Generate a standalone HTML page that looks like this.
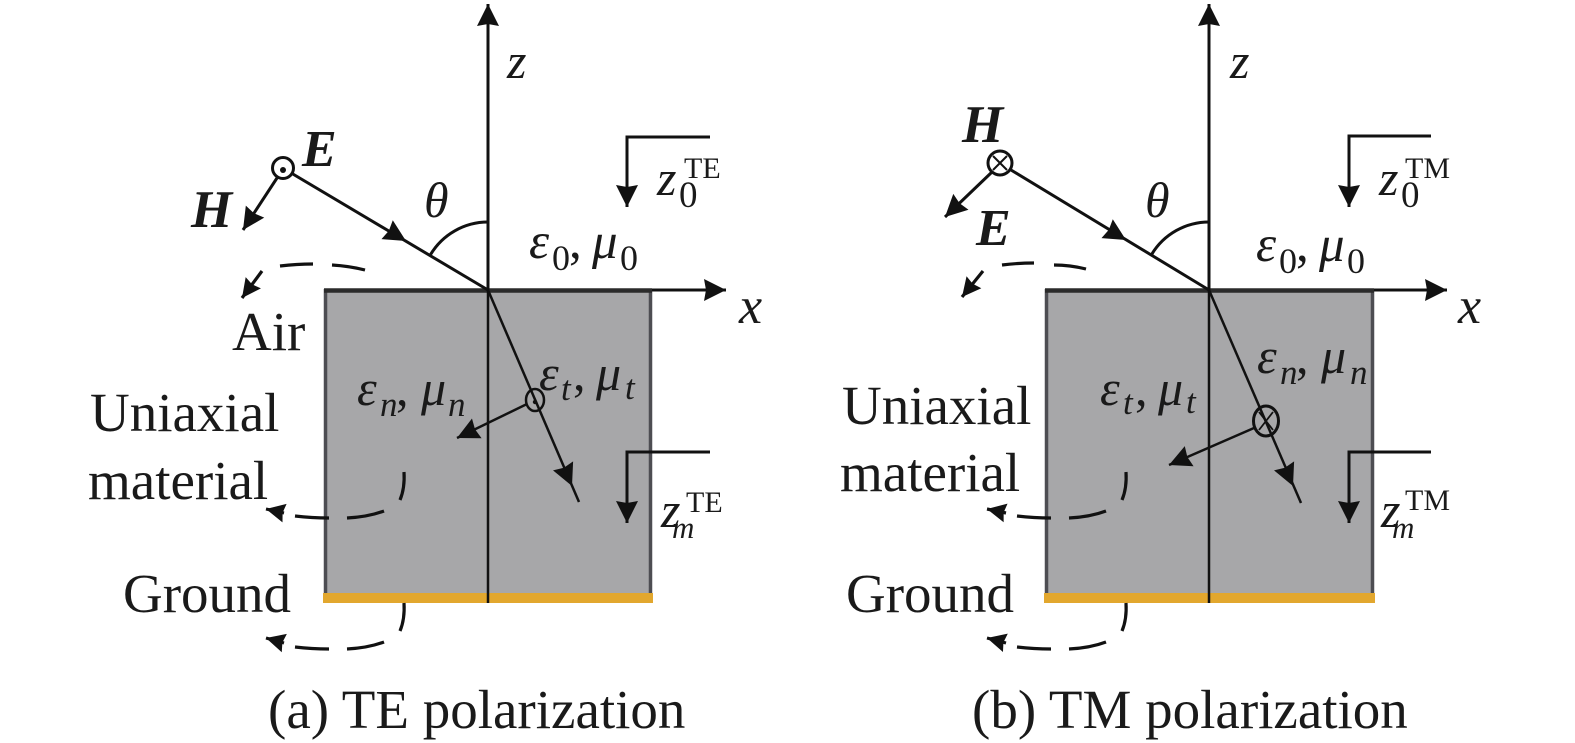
<!DOCTYPE html>
<html><head><meta charset="utf-8"><style>
html,body{margin:0;padding:0;background:#fff;}
svg{display:block;}
text{font-family:"Liberation Serif","DejaVu Serif",serif;fill:#1a1a1a;}
.it{font-style:italic;}
.bi{font-style:italic;font-weight:bold;}
</style></head><body>
<svg width="1575" height="743" viewBox="0 0 1575 743" xmlns="http://www.w3.org/2000/svg">
<defs>
<marker id="A" viewBox="-24 -13 26 26" markerWidth="26" markerHeight="26" refX="0" refY="0" orient="auto" markerUnits="userSpaceOnUse">
<path d="M0,0 L-22,-11 L-20,0 L-22,11 Z" fill="#111"/></marker>
<marker id="S" viewBox="-22 -11 24 22" markerWidth="24" markerHeight="22" refX="0" refY="0" orient="auto" markerUnits="userSpaceOnUse">
<path d="M0,0 L-19,-9.5 L-17,0 L-19,9.5 Z" fill="#111"/></marker>
</defs>
<rect width="1575" height="743" fill="#fff"/>

<!-- ================= PANEL A ================= -->
<rect x="325" y="289" width="327" height="306" fill="#a7a7a9"/>
<line x1="325.5" y1="289" x2="325.5" y2="595" stroke="#4d4d52" stroke-width="3.5"/>
<line x1="650.5" y1="289" x2="650.5" y2="595" stroke="#4d4d52" stroke-width="3.5"/>
<rect x="323" y="593" width="330" height="10" fill="#e2a72e"/>
<line x1="324" y1="290.5" x2="652" y2="290.5" stroke="#2b2b2b" stroke-width="4.5"/>
<line x1="652" y1="290" x2="726" y2="290" stroke="#111" stroke-width="3" marker-end="url(#A)"/>
<!-- z axis -->
<line x1="488" y1="603" x2="488" y2="290" stroke="#111" stroke-width="2.5"/>
<line x1="488" y1="290" x2="488" y2="4" stroke="#111" stroke-width="3" marker-end="url(#A)"/>
<!-- incident ray -->
<line x1="292" y1="173.5" x2="488" y2="290" stroke="#111" stroke-width="3"/>
<path d="M396 235 L406 241" stroke="none" fill="none" marker-end="url(#A)"/>
<circle cx="283" cy="168" r="10.5" fill="#fff" stroke="#111" stroke-width="3"/>
<circle cx="283" cy="170" r="3" fill="#111"/>
<line x1="277" y1="178" x2="243" y2="230" stroke="#111" stroke-width="3" marker-end="url(#A)"/>
<!-- theta arc -->
<path d="M488 222 A67 67 0 0 0 430.4 254.8" fill="none" stroke="#111" stroke-width="3"/>
<!-- transmitted ray -->
<line x1="488" y1="290" x2="579" y2="502" stroke="#111" stroke-width="2.5"/>
<path d="M568 477 L572 486" stroke="none" fill="none" marker-end="url(#A)"/>
<ellipse cx="535" cy="400" rx="9" ry="11" fill="none" stroke="#111" stroke-width="2.5"/>
<circle cx="535" cy="402" r="2.2" fill="#111"/>
<line x1="527" y1="404" x2="457" y2="438" stroke="#111" stroke-width="2.5" marker-end="url(#A)"/>
<!-- brackets -->
<path d="M710 137 H627 V207" fill="none" stroke="#111" stroke-width="3" marker-end="url(#A)"/>
<path d="M710 452 H627 V523" fill="none" stroke="#111" stroke-width="3" marker-end="url(#A)"/>
<!-- dashed arcs -->
<g fill="none" stroke="#111" stroke-width="3.2">
<path d="M365 270 Q349 266 332 265"/>
<path d="M313 264 Q297 264 280 266"/>
<path d="M262 271 L242 298" marker-end="url(#S)"/>
<path d="M404 472 Q405 488 400 500"/>
<path d="M384 511 Q368 517 347 518"/>
<path d="M329 518 Q312 518 295 516"/>
<path d="M284 513 L266 509" marker-end="url(#S)"/>
<path d="M404 603 Q405 619 400 631"/>
<path d="M384 642 Q368 648 347 649"/>
<path d="M329 649 Q312 649 295 647"/>
<path d="M284 643 L266 638" marker-end="url(#S)"/>
</g>
<!-- labels A -->
<text class="it" x="507" y="78" font-size="50">z</text>
<text class="it" x="424" y="217" font-size="50">θ</text>
<text class="bi" x="302" y="166" font-size="52">E</text>
<text class="bi" x="191" y="227" font-size="53">H</text>
<text font-size="51" y="258"><tspan class="it" x="529">ε</tspan><tspan x="552" y="270" font-size="36">0</tspan><tspan x="569" y="258">,</tspan><tspan class="it" x="592" y="258">μ</tspan><tspan x="620" y="270" font-size="36">0</tspan></text>
<text font-size="50"><tspan class="it" x="657" y="195">z</tspan><tspan x="679" y="207" font-size="37">0</tspan><tspan x="684" y="178" font-size="30">TE</tspan></text>
<text font-size="50"><tspan class="it" x="661" y="527">z</tspan><tspan class="it" x="672" y="538" font-size="31">m</tspan><tspan x="686" y="512" font-size="30">TE</tspan></text>
<text class="it" x="739" y="323" font-size="52">x</text>
<text font-size="50"><tspan class="it" x="357" y="405">ε</tspan><tspan class="it" x="380" y="416" font-size="35">n</tspan><tspan x="396" y="405">,</tspan><tspan class="it" x="421" y="405">μ</tspan><tspan class="it" x="448" y="416" font-size="35">n</tspan></text>
<text font-size="50"><tspan class="it" x="539" y="390">ε</tspan><tspan class="it" x="561" y="400" font-size="35">t</tspan><tspan x="573" y="390">,</tspan><tspan class="it" x="596" y="390">μ</tspan><tspan class="it" x="625" y="399" font-size="35">t</tspan></text>
<text x="232" y="350" font-size="55">Air</text>
<text x="90" y="431" font-size="55">Uniaxial</text>
<text x="88" y="499" font-size="55">material</text>
<text x="123" y="612" font-size="55">Ground</text>
<text x="268" y="728" font-size="55">(a) TE polarization</text>

<!-- ================= PANEL B ================= -->
<rect x="1046" y="289" width="328" height="306" fill="#a7a7a9"/>
<line x1="1046.5" y1="289" x2="1046.5" y2="595" stroke="#4d4d52" stroke-width="3.5"/>
<line x1="1372.5" y1="289" x2="1372.5" y2="595" stroke="#4d4d52" stroke-width="3.5"/>
<rect x="1044" y="593" width="331" height="10" fill="#e2a72e"/>
<line x1="1045" y1="290.5" x2="1374" y2="290.5" stroke="#2b2b2b" stroke-width="4.5"/>
<line x1="1374" y1="290" x2="1447" y2="290" stroke="#111" stroke-width="3" marker-end="url(#A)"/>
<line x1="1209" y1="603" x2="1209" y2="290" stroke="#111" stroke-width="2.5"/>
<line x1="1209" y1="290" x2="1209" y2="4" stroke="#111" stroke-width="3" marker-end="url(#A)"/>
<line x1="1011" y1="170" x2="1209" y2="290" stroke="#111" stroke-width="3"/>
<path d="M1116 234 L1126 240" stroke="none" fill="none" marker-end="url(#A)"/>
<circle cx="1000" cy="163" r="12" fill="#fff" stroke="#111" stroke-width="3"/>
<path d="M993 156 L1007 170 M1007 156 L993 170" stroke="#111" stroke-width="2"/>
<line x1="992" y1="172" x2="945" y2="217" stroke="#111" stroke-width="3" marker-end="url(#A)"/>
<path d="M1209 222 A67 67 0 0 0 1151.8 254.2" fill="none" stroke="#111" stroke-width="3"/>
<line x1="1209" y1="290" x2="1301" y2="503" stroke="#111" stroke-width="2.5"/>
<path d="M1289 477 L1293 486" stroke="none" fill="none" marker-end="url(#A)"/>
<ellipse cx="1266" cy="421" rx="12.5" ry="15" fill="none" stroke="#111" stroke-width="3"/>
<path d="M1259 412 L1273 430 M1273 412 L1259 430" stroke="#111" stroke-width="1.8"/>
<line x1="1254" y1="428" x2="1169" y2="465" stroke="#111" stroke-width="2.5" marker-end="url(#A)"/>
<path d="M1431 136 H1349 V207" fill="none" stroke="#111" stroke-width="3" marker-end="url(#A)"/>
<path d="M1431 452 H1349 V523" fill="none" stroke="#111" stroke-width="3" marker-end="url(#A)"/>
<g fill="none" stroke="#111" stroke-width="3.2">
<path d="M1086 269 Q1070 265 1054 265"/>
<path d="M1034 263 Q1018 263 1002 265"/>
<path d="M983 271 L962 297" marker-end="url(#S)"/>
<path d="M1126 472 Q1127 488 1122 500"/>
<path d="M1106 511 Q1090 517 1069 518"/>
<path d="M1051 518 Q1034 518 1017 516"/>
<path d="M1006 513 L987 509" marker-end="url(#S)"/>
<path d="M1126 603 Q1127 619 1122 631"/>
<path d="M1106 642 Q1090 648 1069 649"/>
<path d="M1051 649 Q1034 649 1017 647"/>
<path d="M1006 643 L987 638" marker-end="url(#S)"/>
</g>
<text class="it" x="1230" y="78" font-size="50">z</text>
<text class="it" x="1145" y="217" font-size="50">θ</text>
<text class="bi" x="962" y="142" font-size="53">H</text>
<text class="bi" x="976" y="245" font-size="52">E</text>
<text font-size="51" y="261"><tspan class="it" x="1256">ε</tspan><tspan x="1279" y="273" font-size="36">0</tspan><tspan x="1296" y="261">,</tspan><tspan class="it" x="1319" y="261">μ</tspan><tspan x="1347" y="273" font-size="36">0</tspan></text>
<text font-size="50"><tspan class="it" x="1379" y="195">z</tspan><tspan x="1401" y="207" font-size="37">0</tspan><tspan x="1405" y="178" font-size="30">TM</tspan></text>
<text font-size="50"><tspan class="it" x="1381" y="527">z</tspan><tspan class="it" x="1392" y="538" font-size="31">m</tspan><tspan x="1405" y="510" font-size="30">TM</tspan></text>
<text class="it" x="1458" y="323" font-size="52">x</text>
<text font-size="50"><tspan class="it" x="1100" y="405">ε</tspan><tspan class="it" x="1123" y="414" font-size="35">t</tspan><tspan x="1135" y="405">,</tspan><tspan class="it" x="1158" y="405">μ</tspan><tspan class="it" x="1186" y="413" font-size="35">t</tspan></text>
<text font-size="50"><tspan class="it" x="1257" y="373">ε</tspan><tspan class="it" x="1280" y="384" font-size="35">n</tspan><tspan x="1296" y="373">,</tspan><tspan class="it" x="1321" y="373">μ</tspan><tspan class="it" x="1350" y="384" font-size="35">n</tspan></text>
<text x="842" y="424" font-size="55">Uniaxial</text>
<text x="840" y="491" font-size="55">material</text>
<text x="846" y="612" font-size="55">Ground</text>
<text x="972" y="728" font-size="55">(b) TM polarization</text>
</svg>
</body></html>
